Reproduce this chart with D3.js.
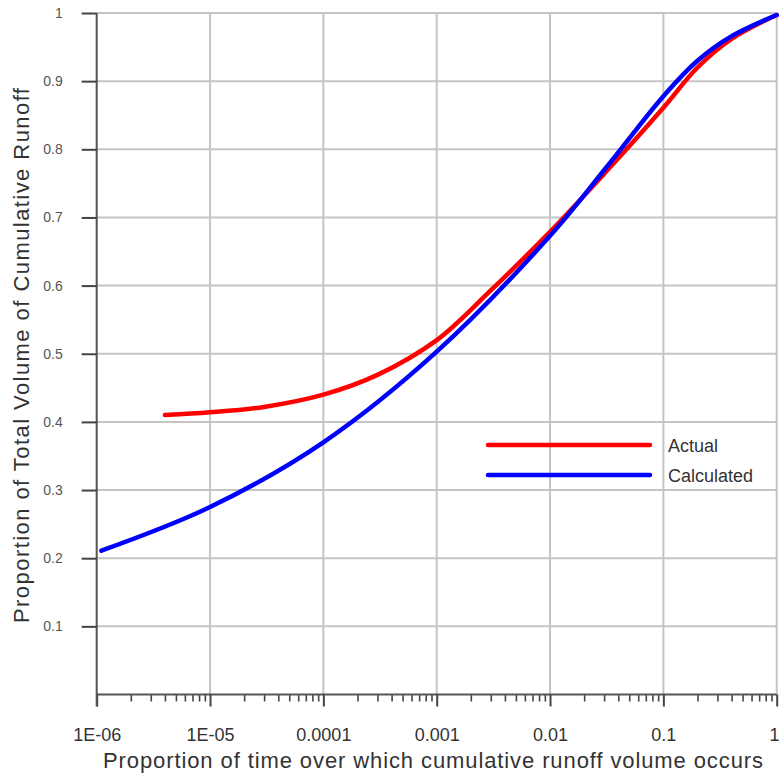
<!DOCTYPE html>
<html>
<head>
<meta charset="utf-8">
<script src="https://cdn.jsdelivr.net/npm/d3@7"></script>
<style>
  html, body { margin: 0; padding: 0; background: #fff; }
  svg { display: block; font-family: "Liberation Sans", Arial, sans-serif; }
</style>
</head>
<body>
<svg id="chart" width="779" height="776"></svg>
<script>
// Cumulative runoff volume vs. proportion of time (log scale)
const actualX = [4e-6, 1e-5, 3e-5, 1e-4, 3e-4, 1e-3, 3e-3, 1e-2, 3e-2, 0.1, 0.2, 0.4, 1];
const actualY = [0.410, 0.414, 0.422, 0.440, 0.469, 0.520, 0.593, 0.679, 0.764, 0.861, 0.920, 0.962, 0.997];

const calculatedX = [1.1e-6, 1e-5, 1e-4, 1e-3, 1e-2, 3.16e-2, 0.1, 0.2, 0.4, 1];
const calculatedY = [0.211, 0.275, 0.370, 0.503, 0.673, 0.774, 0.878, 0.930, 0.966, 0.997];

const seriesNames = ["Actual", "Calculated"];
const seriesColors = ["#ff0000", "#0000ff"];

const xTickValues = [1e-6, 1e-5, 1e-4, 1e-3, 1e-2, 1e-1, 1];
const xTickLabels = ["1E-06", "1E-05", "0.0001", "0.001", "0.01", "0.1", "1"];
const yTickValues = [0.1, 0.2, 0.3, 0.4, 0.5, 0.6, 0.7, 0.8, 0.9, 1];
const yTickLabels = ["0.1", "0.2", "0.3", "0.4", "0.5", "0.6", "0.7", "0.8", "0.9", "1"];

const xTitle = "Proportion of time over which cumulative runoff volume occurs";
const yTitle = "Proportion of Total Volume of Cumulative Runoff";

const svg = d3.select("#chart");
const plotLeft = 96.7, plotRight = 776.7, plotTop = 13, plotBottom = 694.5;

const x = d3.scaleLog().domain([1e-6, 1]).range([plotLeft, plotRight]);
const y = d3.scaleLinear().domain([0, 1]).range([plotBottom, plotTop]);

// grid
const grid = svg.append("g").attr("stroke", "#c4c4c4").attr("stroke-width", 2);
grid.selectAll("line.v").data(xTickValues.slice(1)).join("line")
  .attr("class", "v")
  .attr("x1", d => x(d)).attr("x2", d => x(d))
  .attr("y1", plotTop).attr("y2", plotBottom);
grid.selectAll("line.h").data(yTickValues).join("line")
  .attr("class", "h")
  .attr("x1", plotLeft).attr("x2", plotRight)
  .attr("y1", d => y(d)).attr("y2", d => y(d));

// minor x ticks (2..9 within each decade)
const minorTicks = [];
for (let e = -6; e < 0; e++) {
  for (let m = 2; m <= 9; m++) minorTicks.push(m * Math.pow(10, e));
}

const xAxisMinor = d3.axisBottom(x).tickValues(minorTicks).tickSize(7).tickFormat("");
const gxm = svg.append("g").attr("transform", `translate(0,${plotBottom})`).call(xAxisMinor);
gxm.select(".domain").remove();
gxm.selectAll(".tick line").attr("stroke", "#444").attr("stroke-width", 1.6);

const xAxis = d3.axisBottom(x).tickValues(xTickValues).tickSize(12).tickPadding(22)
  .tickFormat((d, i) => xTickLabels[i]);
const gx = svg.append("g").attr("transform", `translate(0,${plotBottom})`).call(xAxis);
gx.select(".domain").attr("d", `M${plotLeft},0H${plotRight}`).attr("stroke", "#555").attr("stroke-width", 2);
gx.selectAll(".tick line").attr("stroke", "#444").attr("stroke-width", 2);
gx.selectAll(".tick text").attr("font-size", 18).attr("fill", "#333")
  .attr("font-family", "Liberation Sans, Arial, sans-serif");
// keep the last label inside the frame
gx.selectAll(".tick text").filter(d => d === 1).attr("text-anchor", "end").attr("dx", 2.3);

const yAxis = d3.axisLeft(y).tickValues(yTickValues).tickSize(15).tickPadding(19)
  .tickFormat((d, i) => yTickLabels[i]);
const gy = svg.append("g").attr("transform", `translate(${plotLeft},0)`).call(yAxis);
gy.select(".domain").attr("d", `M0,${plotTop}V${plotBottom + 12}`).attr("stroke", "#555").attr("stroke-width", 2);
gy.selectAll(".tick line").attr("stroke", "#444").attr("stroke-width", 2);
gy.selectAll(".tick text").attr("font-size", 14).attr("fill", "#555")
  .attr("font-family", "Liberation Sans, Arial, sans-serif");

// curves
const line = d3.line().x(d => x(d[0])).y(d => y(d[1])).curve(d3.curveCatmullRom.alpha(0.5));
const series = [
  d3.zip(actualX, actualY),
  d3.zip(calculatedX, calculatedY)
];
svg.append("g").selectAll("path").data(series).join("path")
  .attr("d", line)
  .attr("fill", "none")
  .attr("stroke", (d, i) => seriesColors[i])
  .attr("stroke-width", 4.5)
  .attr("stroke-linecap", "round")
  .attr("stroke-linejoin", "round");

// legend
const legend = svg.append("g");
const legendRows = seriesNames.map((n, i) => ({ name: n, color: seriesColors[i], i }));
legend.selectAll("line").data(legendRows).join("line")
  .attr("x1", 488).attr("x2", 650)
  .attr("y1", d => 445 + d.i * 30).attr("y2", d => 445 + d.i * 30)
  .attr("stroke", d => d.color).attr("stroke-width", 4.5).attr("stroke-linecap", "round");
legend.selectAll("text").data(legendRows).join("text")
  .attr("x", 668).attr("y", d => 451.5 + d.i * 30)
  .attr("font-size", 18).attr("fill", "#333")
  .text(d => d.name);

// axis titles
svg.append("text")
  .attr("x", 103).attr("y", 768)
  .attr("font-size", 22).attr("fill", "#333")
  .attr("textLength", 660).attr("lengthAdjust", "spacing")
  .text(xTitle);

svg.append("text")
  .attr("transform", "translate(29,623) rotate(-90)")
  .attr("x", 0).attr("y", 0)
  .attr("font-size", 22).attr("fill", "#333")
  .attr("textLength", 535).attr("lengthAdjust", "spacing")
  .text(yTitle);
</script>
</body>
</html>
